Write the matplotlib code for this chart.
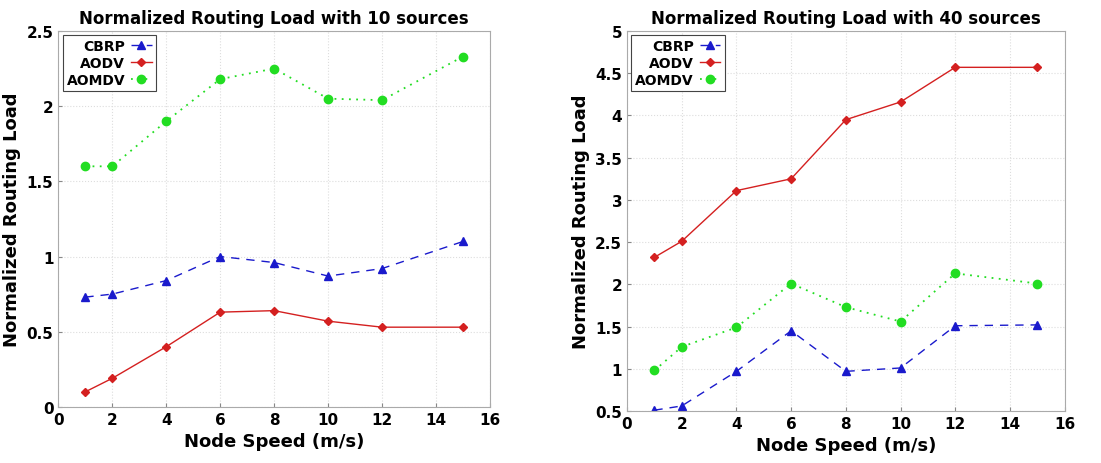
import matplotlib
matplotlib.use('Agg')
import matplotlib.pyplot as plt

speeds = [1, 2, 4, 6, 8, 10, 12, 15]

# 10 sources
cbrp_10 = [0.73, 0.75, 0.84, 1.0, 0.96, 0.87, 0.92, 1.1]
aodv_10 = [0.1, 0.19, 0.4, 0.63, 0.64, 0.57, 0.53, 0.53]
aomdv_10 = [1.6, 1.6, 1.9, 2.18, 2.25, 2.05, 2.04, 2.33]

# 40 sources
cbrp_40 = [0.51, 0.56, 0.97, 1.45, 0.97, 1.01, 1.51, 1.52]
aodv_40 = [2.32, 2.51, 3.11, 3.25, 3.95, 4.16, 4.57, 4.57]
aomdv_40 = [0.98, 1.26, 1.49, 2.01, 1.73, 1.56, 2.13, 2.01]

titles = ["Normalized Routing Load with 10 sources", "Normalized Routing Load with 40 sources"]
xticks = [0, 2, 4, 6, 8, 10, 12, 14, 16]
yticks_10 = [0, 0.5, 1, 1.5, 2, 2.5]
yticks_40 = [0.5, 1, 1.5, 2, 2.5, 3, 3.5, 4, 4.5, 5]

plt.rcParams['font.family'] = 'DejaVu Sans'
plt.rcParams['font.weight'] = 'bold'

fig = plt.figure(figsize=(11.01, 4.64), dpi=100)
ax1 = fig.add_axes([0.053, 0.121, 0.392, 0.810])
ax2 = fig.add_axes([0.5695, 0.112, 0.3975, 0.819])


def draw(ax, cbrp, aodv, aomdv, title, yticks):
    ax.plot(speeds, cbrp, color='#1a1acc', linestyle=(0, (6, 5)), lw=1.0,
            marker='^', markersize=5.5, label='CBRP')
    ax.plot(speeds, aodv, color='#d42020', linestyle='-', lw=1.0,
            marker='D', markersize=4, label='AODV')
    ax.plot(speeds, aomdv, color='#22dd22', linestyle=(0, (1, 3)), lw=1.3,
            marker='o', markersize=6, label='AOMDV')
    ax.set_xlim(0, 16)
    ax.set_ylim(yticks[0], yticks[-1])
    ax.set_xticks(xticks)
    ax.set_yticks(yticks)
    ax.set_yticklabels([f"{v:g}" for v in yticks])
    ax.tick_params(labelsize=11, direction='in', length=3, color='#888888')
    for lab in ax.get_xticklabels() + ax.get_yticklabels():
        lab.set_fontweight('bold')
    ax.grid(True, color='#dddddd', linestyle=':', lw=0.8)
    for s in ax.spines.values():
        s.set_color('#aaaaaa')
    ax.set_title(title, fontsize=12, fontweight='bold', pad=6)
    ax.set_xlabel('Node Speed (m/s)', fontsize=13, fontweight='bold')
    ax.set_ylabel('Normalized Routing Load', fontsize=13, fontweight='bold')
    leg = ax.legend(loc='upper left', markerfirst=False, fontsize=10,
                    handlelength=1.5, handletextpad=0.4, borderpad=0.3,
                    labelspacing=0.2, fancybox=False, framealpha=1,
                    edgecolor='#444444', borderaxespad=0.3)
    leg.get_frame().set_linewidth(0.8)
    for t in leg.get_texts():
        t.set_fontweight('bold')


draw(ax1, cbrp_10, aodv_10, aomdv_10, titles[0], yticks_10)
draw(ax2, cbrp_40, aodv_40, aomdv_40, titles[1], yticks_40)

fig.savefig('out.png', dpi=100)
